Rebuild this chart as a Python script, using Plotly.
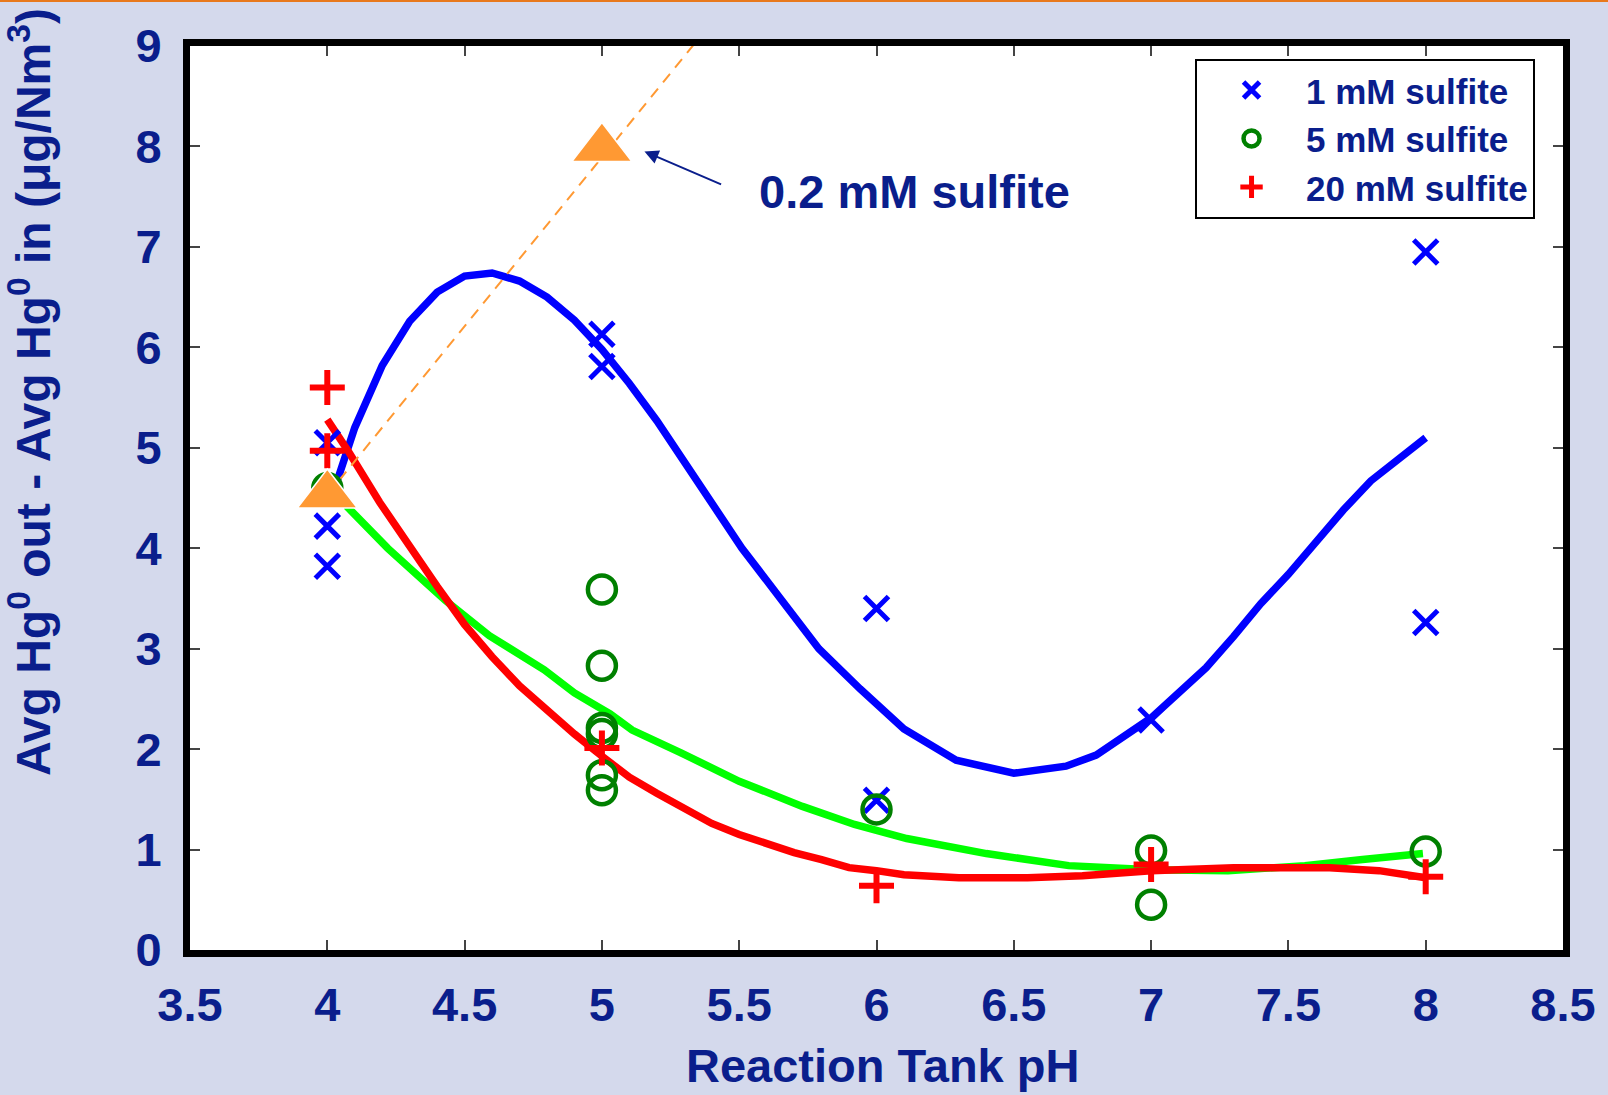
import plotly.graph_objects as go

# ---- data ----
ph_1mM = [4, 4, 4, 5, 5, 6, 6, 7, 8, 8]
val_1mM = [5.05, 4.22, 3.82, 6.13, 5.81, 3.40, 1.49, 2.29, 6.95, 3.26]

ph_5mM = [4, 5, 5, 5, 5, 5, 5, 6, 7, 7, 8]
val_5mM = [4.60, 3.59, 2.83, 2.21, 2.15, 1.74, 1.59, 1.40, 0.99, 0.45, 0.98]

ph_20mM = [4, 4, 5, 6, 7, 8]
val_20mM = [5.60, 4.97, 2.01, 0.64, 0.85, 0.73]

ph_02mM = [4, 5]
val_02mM = [4.53, 7.98]

trend_ph = [4.0, 5.36]
trend_val = [4.53, 9.10]

fit1_ph = [4.03, 4.10, 4.20, 4.30, 4.40, 4.50, 4.60, 4.70, 4.80, 4.90, 5.00, 5.10,
           5.20, 5.30, 5.40, 5.51, 5.65, 5.79, 5.94, 6.10, 6.29, 6.50, 6.69, 6.80,
           7.00, 7.10, 7.20, 7.30, 7.40, 7.50, 7.60, 7.70, 7.80, 7.90, 8.00]
fit1_val = [4.62, 5.20, 5.82, 6.26, 6.55, 6.71, 6.74, 6.66, 6.50, 6.27, 5.98, 5.64,
            5.27, 4.86, 4.44, 4.00, 3.50, 3.00, 2.60, 2.20, 1.89, 1.76, 1.83, 1.94,
            2.31, 2.55, 2.81, 3.12, 3.45, 3.74, 4.06, 4.38, 4.67, 4.89, 5.10]

fit5_ph = [4.07, 4.22, 4.43, 4.59, 4.79, 4.90, 5.03, 5.11, 5.29, 5.40, 5.50, 5.73,
           5.92, 6.11, 6.40, 6.70, 7.00, 7.28, 7.56, 7.77, 7.99]
fit5_val = [4.42, 4.00, 3.48, 3.13, 2.79, 2.56, 2.35, 2.19, 1.96, 1.82, 1.68, 1.43,
            1.25, 1.11, 0.96, 0.84, 0.80, 0.79, 0.84, 0.90, 0.96]

fit20_ph = [4.00, 4.08, 4.19, 4.30, 4.40, 4.50, 4.60, 4.70, 4.80, 4.90, 5.00, 5.10,
            5.20, 5.30, 5.40, 5.50, 5.60, 5.70, 5.80, 5.90, 6.00, 6.10, 6.30, 6.55,
            6.75, 7.00, 7.30, 7.65, 7.83, 8.00]
fit20_val = [5.28, 4.95, 4.46, 4.01, 3.62, 3.24, 2.92, 2.63, 2.38, 2.15, 1.93, 1.72,
             1.56, 1.40, 1.26, 1.15, 1.06, 0.97, 0.90, 0.82, 0.79, 0.75, 0.72, 0.72,
             0.74, 0.79, 0.82, 0.82, 0.79, 0.72]

x_ticks = [3.5, 4, 4.5, 5, 5.5, 6, 6.5, 7, 7.5, 8, 8.5]
y_ticks = [0, 1, 2, 3, 4, 5, 6, 7, 8, 9]

# ---- style ----
NAVY = "#0A1E8C"
FONT = "Liberation Sans, Arial, sans-serif"
BG = "#D4D9EC"

fig = go.Figure()

# fitted curves
fig.add_trace(go.Scatter(x=fit1_ph, y=fit1_val, mode="lines",
                         line=dict(color="#0000FF", width=7.5), showlegend=False))
fig.add_trace(go.Scatter(x=fit5_ph, y=fit5_val, mode="lines",
                         line=dict(color="#00FF00", width=7.5), showlegend=False))
fig.add_trace(go.Scatter(x=fit20_ph, y=fit20_val, mode="lines",
                         line=dict(color="#FF0000", width=7.5), showlegend=False))
# 0.2 mM trend
fig.add_trace(go.Scatter(x=trend_ph, y=trend_val, mode="lines",
                         line=dict(color="#FF9933", width=2, dash="11px,8px"),
                         showlegend=False))

# data points
fig.add_trace(go.Scatter(x=ph_1mM, y=val_1mM, mode="markers", name="1 mM sulfite",
                         marker=dict(symbol="x-thin", size=24,
                                     line=dict(color="#0000FF", width=5))))
fig.add_trace(go.Scatter(x=ph_5mM, y=val_5mM, mode="markers", name="5 mM sulfite",
                         marker=dict(symbol="circle-open", size=28, color="#008000",
                                     line=dict(color="#008000", width=4.5))))
fig.add_trace(go.Scatter(x=ph_20mM, y=val_20mM, mode="markers", name="20 mM sulfite",
                         marker=dict(symbol="cross-thin", size=25,
                                     line=dict(color="#FF0000", width=6))))
fig.add_trace(go.Scatter(x=ph_02mM, y=val_02mM, mode="markers", showlegend=False,
                         marker=dict(symbol="triangle-up", size=52, color="#FF9933",
                                     line=dict(color="white", width=1.5))))

axis_common = dict(
    showline=True, linecolor="black", linewidth=7, mirror="ticks",
    ticks="inside", ticklen=10, tickwidth=1.5, tickcolor="#444444",
    showgrid=False, zeroline=False,
    tickfont=dict(family=FONT, size=47, color=NAVY, weight="bold"),
)

fig.update_xaxes(range=[3.5, 8.5], tickvals=x_ticks,
                 ticktext=[f"{v:g}" for v in x_ticks],
                 ticklabelstandoff=8, **axis_common)
fig.update_yaxes(range=[0, 9], tickvals=y_ticks,
                 ticktext=[str(v) for v in y_ticks],
                 ticklabelstandoff=12, **axis_common)

fig.update_layout(
    width=1608, height=1095,
    margin=dict(l=190, r=43, t=46, b=145),
    paper_bgcolor=BG, plot_bgcolor="white",
    font=dict(family=FONT, color=NAVY),
    legend=dict(
        x=0.732, y=0.986, xanchor="left", yanchor="top",
        bgcolor="white", bordercolor="black", borderwidth=2,
        font=dict(family=FONT, size=35, color=NAVY, weight="bold"),
        itemwidth=99, tracegroupgap=0,
    ),
    annotations=[
        dict(text="Reaction Tank pH", xref="paper", yref="paper",
             x=0.5047, y=-0.128, xanchor="center", yanchor="middle", showarrow=False,
             font=dict(family=FONT, size=47, color=NAVY, weight="bold")),
        dict(text="Avg Hg<sup>0</sup> out - Avg Hg<sup>0</sup> in (μg/Nm<sup>3</sup>)",
             xref="paper", yref="paper", x=-0.117, y=0.6176, textangle=-90,
             xanchor="center", yanchor="middle", showarrow=False,
             font=dict(family=FONT, size=48, color=NAVY, weight="bold")),
        dict(text="0.2 mM sulfite", xref="x", yref="y", x=6.14, y=7.55,
             xanchor="center", yanchor="middle", showarrow=False,
             font=dict(family=FONT, size=47, color=NAVY, weight="bold")),
        dict(text=" ", xref="x", yref="y", x=5.155, y=7.95,
             axref="x", ayref="y", ax=5.445, ay=7.61,
             showarrow=True, arrowhead=2, arrowsize=1.4, arrowwidth=2,
             arrowcolor=NAVY),
    ],
    shapes=[
        dict(type="rect", xref="paper", yref="paper", x0=-0.2, x1=1.1,
             y0=1.0486, y1=1.06, fillcolor="#E8791C", line=dict(width=0),
             layer="below"),
    ],
)

fig.write_html("out.html")
